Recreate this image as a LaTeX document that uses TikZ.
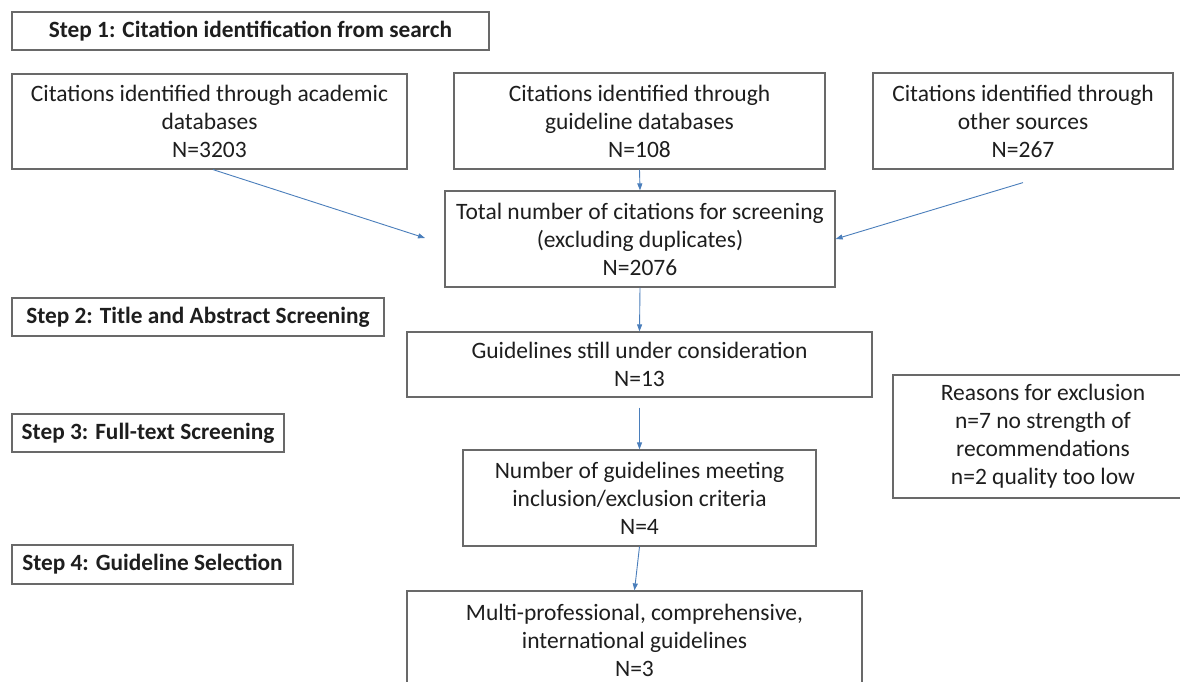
\documentclass[tikz,border=0pt]{standalone}
\usepackage{fontspec}
\setmainfont{Carlito}
\usetikzlibrary{arrows.meta}
\definecolor{boxline}{RGB}{105,105,105}
\definecolor{arrowblue}{RGB}{74,126,187}
\definecolor{txt}{RGB}{30,30,30}
\begin{document}
\begin{tikzpicture}[x=1pt,y=-1pt,
  box/.style={draw=boxline, line width=1.2pt, align=center, inner sep=0pt, text=txt,
    font=\fontsize{23.5}{28}\selectfont, anchor=center},
  stepbox/.style={box, font=\fontsize{23.3}{28}\selectfont\bfseries},
  arr/.style={draw=arrowblue, line width=0.9pt, -{Triangle[length=7pt,width=5pt]}}]
\clip (0,0) rectangle (1180,681);
\fill[white] (0,0) rectangle (1180,681);
% step labels
\node[stepbox, minimum width=477pt, minimum height=38pt] (s1) at (250.5,31) {Step 1: Citation identification from search};
\node[stepbox, minimum width=372pt, minimum height=38pt] (s2) at (198,317) {Step 2: Title and Abstract Screening};
\node[stepbox, minimum width=272pt, minimum height=38pt] (s3) at (148,433) {Step 3: Full-text Screening};
\node[stepbox, minimum width=281pt, minimum height=39pt] (s4) at (152.5,564.5) {Step 4: Guideline Selection};
% flow boxes
\node[box, minimum width=395pt, minimum height=95pt] (acad) at (209.5,121.5) {Citations identified through academic\\databases\\N=3203};
\node[box, minimum width=371pt, minimum height=96pt] (guid) at (639.5,121) {Citations identified through\\guideline databases\\N=108};
\node[box, minimum width=300pt, minimum height=96pt] (other) at (1023,121) {Citations identified through\\other sources\\N=267};
\node[box, minimum width=390pt, minimum height=96pt] (total) at (640,239) {Total number of citations for screening\\(excluding duplicates)\\N=2076};
\node[box, minimum width=465pt, minimum height=65pt] (still) at (639.5,364.5) {Guidelines still under consideration\\N=13};
\node[box, minimum width=300pt, minimum height=123pt] (reasons) at (1043,436.5) {Reasons for exclusion\\n=7 no strength of\\recommendations\\n=2 quality too low};
\node[box, minimum width=353pt, minimum height=96pt] (number) at (639.5,498) {Number of guidelines meeting\\inclusion/exclusion criteria\\N=4};
\node[box, minimum width=455pt, minimum height=99pt] (multi) at (634.5,640.5) {Multi-professional, comprehensive,\\international guidelines\\N=3};
% connector helper coordinates
\coordinate (acstart) at ([xshift=3.5pt]acad.south);
\coordinate (acend) at (425,238);
\coordinate (otstart) at ([yshift=-13pt]other.south);
\coordinate (ststart) at ([yshift=-10pt]still.south);
% connectors
\draw[arr] (acstart) -- (acend);
\draw[arr] (guid.south) -- (total.north);
\draw[arr] (otstart) -- (total.east);
\draw[arr] (total.south) -- (still.north);
\draw[arr] (ststart) -- (number.north);
\draw[arr] (number.south) -- (multi.north);
\end{tikzpicture}
\end{document}
